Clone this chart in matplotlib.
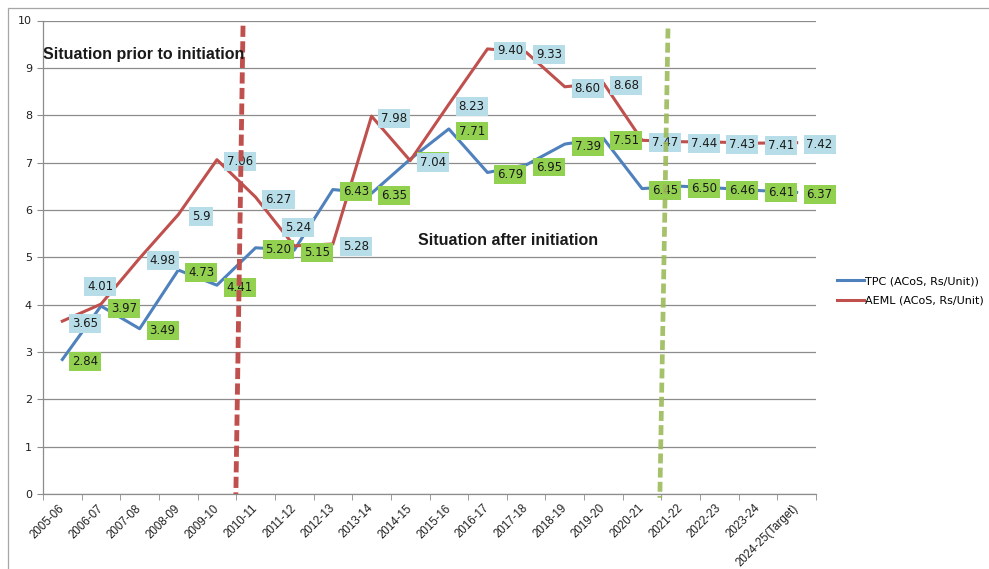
import matplotlib.pyplot as plt
from matplotlib.patches import Rectangle

years = ['2005-06', '2006-07', '2007-08', '2008-09', '2009-10', '2010-11',
         '2011-12', '2012-13', '2013-14', '2014-15', '2015-16', '2016-17',
         '2017-18', '2018-19', '2019-20', '2020-21', '2021-22', '2022-23',
         '2023-24', '2024-25(Target)']

# values as printed on the chart labels
tpc_text = ['2.84', '3.97', '3.49', '4.73', '4.41', '5.20', '5.15', '6.43',
            '6.35', '7.07', '7.71', '6.79', '6.95', '7.39', '7.51', '6.45',
            '6.50', '6.46', '6.41', '6.37']
aeml_text = ['3.65', '4.01', '4.98', '5.9', '7.06', '6.27', '5.24', '5.28',
             '7.98', '7.04', '8.23', '9.40', '9.33', '8.60', '8.68', '7.47',
             '7.44', '7.43', '7.41', '7.42']
tpc = [float(s) for s in tpc_text]
aeml = [float(s) for s in aeml_text]

# hand drawn dashed markers (start/end of the initiation period)
prior_marker = ([4.675, 4.49], [9.89, 0.0])
after_marker = ([15.67, 15.46], [9.83, -0.08])

blue = '#4F81BD'
red = '#C0504D'
grid_grey = '#8C8C8C'

fig = plt.figure(figsize=(9.89, 5.69), dpi=100)
ax = fig.add_axes([43 / 989, 1 - 494 / 569, (816 - 43) / 989, (494 - 20.5) / 569])

x = list(range(len(years)))
ax.plot(x, tpc, color=blue, lw=2.2, label='TPC (ACoS, Rs/Unit))', zorder=3)
ax.plot(x, aeml, color=red, lw=2.2, label='AEML (ACoS, Rs/Unit)', zorder=3)

ax.set_xlim(-0.5, len(years) - 0.5)
ax.set_ylim(0, 10)
ax.set_yticks(range(0, 11))
ax.yaxis.grid(True, color=grid_grey, lw=0.9)
ax.set_axisbelow(True)
for s in ['top', 'right']:
    ax.spines[s].set_visible(False)
for s in ['left', 'bottom']:
    ax.spines[s].set_color(grid_grey)
    ax.spines[s].set_linewidth(0.9)

ax.set_xticks(x)
ax.set_xticks([i - 0.5 for i in range(len(years) + 1)], minor=True)
ax.set_xticklabels(years, rotation=45, ha='right', va='center',
                   rotation_mode='anchor', fontsize=8.3,
                   family='Liberation Sans', color='#1f1f1f')
ax.tick_params(axis='x', which='major', length=0, pad=9)
ax.tick_params(axis='x', which='minor', length=4, color=grid_grey)
ax.tick_params(axis='y', length=4, color=grid_grey, labelsize=8,
               labelcolor='#1f1f1f', pad=4)

# data labels, placed to the right of each point (a couple moved above)
nudges_aeml = {1: (-0.7, 12.5), 6: (3, 13.5)}


def add_labels(vals, texts, face, nudges, z):
    for i, (v, t) in enumerate(zip(vals, texts)):
        off = nudges.get(i, (16.5, -1.5))
        ax.annotate(t, (i, v), xytext=off, textcoords='offset points',
                    ha='center', va='center', fontsize=8.5, color='#1a1a1a',
                    bbox=dict(boxstyle='square,pad=0.25', fc=face, ec='none'),
                    zorder=z)


add_labels(tpc, tpc_text, '#92D050', {}, 4)
add_labels(aeml, aeml_text, '#B7DEE8', nudges_aeml, 5)

ax.plot(*prior_marker, color=red, lw=3.5, dashes=(2.3, 0.9), clip_on=False, zorder=6)
ax.plot(*after_marker, color='#9BBB59', lw=3.4, dashes=(2.1, 0.9),
        alpha=0.9, clip_on=False, zorder=6)

fig.text(43 / 989, 1 - 54 / 569, 'Situation prior to initiation', fontsize=11.5,
         fontweight='bold', family='Liberation Sans', ha='left', va='center',
         color='#1a1a1a')
fig.text(418 / 989, 1 - 241 / 569, 'Situation after initiation', fontsize=11.5,
         fontweight='bold', family='Liberation Sans', ha='left', va='center',
         color='#1a1a1a')

ax.legend(loc='center left', bbox_to_anchor=(837 / 989, 1 - 291 / 569),
          bbox_transform=fig.transFigure, frameon=False, fontsize=8,
          handlelength=2.45, handletextpad=0.1, borderpad=0, labelspacing=0.85,
          borderaxespad=0)

# outer chart frame (cut off at right and bottom)
fig.patches.append(Rectangle((8 / 989, -0.5), 2, 1.5 - 8 / 569,
                             transform=fig.transFigure, fill=False,
                             ec='#A6A6A6', lw=0.9))

fig.savefig('out.png', dpi=100)
